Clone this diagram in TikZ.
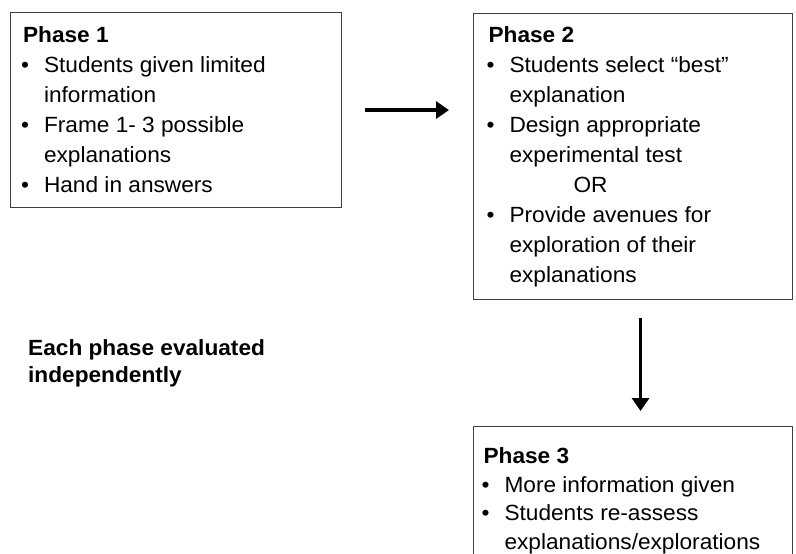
\documentclass[tikz,border=0pt]{standalone}
\usepackage{fontspec}
\setmainfont{Liberation Sans}[FakeStretch=1.03]
\usetikzlibrary{arrows.meta}

\newcommand{\bul}{\makebox[21pt][l]{\hspace{-2pt}\textbullet}}
\newcommand{\ind}{\hspace*{21pt}}
% width, height, first baseline, lines
\newcommand{\phasetext}[4]{\parbox[c][#2][t]{#1}{\rule{0pt}{#3}#4}}

\begin{document}
\begin{tikzpicture}[x=1pt,y=-1pt,
    phasebox/.style={draw=black!75,line width=1.1pt,inner ysep=0pt,anchor=north west,
      font=\fontsize{22}{30}\selectfont},
    flow/.style={line width=3.2pt,-{Triangle[length=13pt,width=17pt]}},
    remark/.style={inner sep=0pt,anchor=base west,align=left,
      font=\bfseries\fontsize{22}{27}\selectfont}]
    \useasboundingbox (0,0) rectangle (796,554);

    \node[phasebox,inner xsep=12.5pt] (p1) at (10,12) {\phasetext{306pt}{195pt}{30pt}{%
      \textbf{Phase 1}\\
      \bul Students given limited\\
      \ind information\\
      \bul Frame 1- 3 possible\\
      \ind explanations\\
      \bul Hand in answers}};

    \node[phasebox,inner xsep=15pt] (p2) at (473,13) {\phasetext{289pt}{286pt}{29pt}{%
      \textbf{Phase 2}\\
      \bul Students select “best”\\
      \ind explanation\\
      \bul Design appropriate\\
      \ind experimental test\\
      \hspace*{85pt}OR\\
      \bul Provide avenues for\\
      \ind exploration of their\\
      \ind explanations}};

    \node[phasebox,inner xsep=10pt,font=\fontsize{22}{28.5}\selectfont] (p3) at (473,426)
      {\phasetext{299pt}{140pt}{37pt}{%
      \textbf{Phase 3}\\
      \bul More information given\\
      \bul Students re-assess\\
      \ind explanations/explorations}};

    \node[remark] (note) at (28,382) {Each phase evaluated\\independently};

    \draw[flow,shorten <=23pt,shorten >=24pt] (p1.east) -- (p1.east -| p2.west);
    \draw[flow,shorten <=18pt,shorten >=15pt] ([xshift=7.5pt]p2.south) -- ([xshift=7.5pt]p2.south |- p3.north);
\end{tikzpicture}
\end{document}
